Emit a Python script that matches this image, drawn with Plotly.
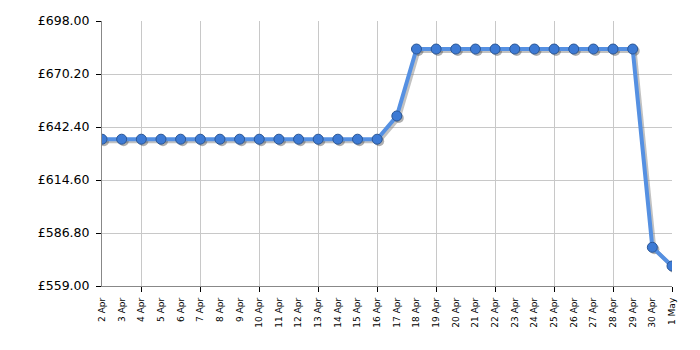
import plotly.graph_objects as go

dates = ["2 Apr", "3 Apr", "4 Apr", "5 Apr", "6 Apr", "7 Apr", "8 Apr", "9 Apr", "10 Apr",
         "11 Apr", "12 Apr", "13 Apr", "14 Apr", "15 Apr", "16 Apr", "17 Apr", "18 Apr",
         "19 Apr", "20 Apr", "21 Apr", "22 Apr", "23 Apr", "24 Apr", "25 Apr", "26 Apr",
         "27 Apr", "28 Apr", "29 Apr", "30 Apr", "1 May"]
prices = [636.0, 636.0, 636.0, 636.0, 636.0, 636.0, 636.0, 636.0, 636.0, 636.0,
          636.0, 636.0, 636.0, 636.0, 636.0, 648.2, 683.3, 683.3, 683.3, 683.3,
          683.3, 683.3, 683.3, 683.3, 683.3, 683.3, 683.3, 683.3, 579.3, 569.5]
y_ticks = [559.0, 586.8, 614.6, 642.4, 670.2, 698.0]
y_labels = ["£%.2f" % v for v in y_ticks]

W, H = 700, 350
ML, MR, MT, MB = 102, 28, 21, 64
pw, ph = W - ML - MR, H - MT - MB
idx = list(range(len(dates)))
xr = [0, len(dates) - 1]
yr = [y_ticks[0], y_ticks[-1]]
# shadow offset (pixels) converted to data units
sx = 2 * (xr[1] - xr[0]) / pw
sy = 2 * (yr[1] - yr[0]) / ph

fig = go.Figure()
# base subplot (holds grid/axes)
fig.add_trace(go.Scatter(x=idx, y=prices, mode="none", showlegend=False, hoverinfo="skip"))
# label axis (every day)
fig.add_trace(go.Scatter(x=idx, y=prices, xaxis="x2", mode="none", showlegend=False,
                         hoverinfo="skip"))
# shadow
fig.add_trace(go.Scatter(x=idx, y=prices, xaxis="x3", yaxis="y3", mode="lines+markers",
                         line=dict(color="rgba(120,120,120,0.45)", width=4),
                         marker=dict(size=10, color="rgba(80,80,80,0.45)"),
                         hoverinfo="skip", showlegend=False))
# main series
fig.add_trace(go.Scatter(x=idx, y=prices, xaxis="x4", yaxis="y4", mode="lines+markers",
                         line=dict(color="#5590e2", width=4),
                         marker=dict(size=10, color="#3d7ad4",
                                     line=dict(color="#2b5796", width=1)),
                         showlegend=False))

fig.update_layout(
    width=W, height=H,
    margin=dict(l=ML, r=MR, t=MT, b=MB),
    paper_bgcolor="white", plot_bgcolor="white",
    font=dict(family="DejaVu Sans, Verdana, sans-serif", color="#000"),
    xaxis=dict(range=xr, tick0=2, dtick=3, showticklabels=False,
               showgrid=True, gridcolor="#c8c8c8", gridwidth=1,
               ticks="outside", ticklen=5, tickcolor="#000",
               showline=True, linecolor="#888", linewidth=1, zeroline=False),
    xaxis2=dict(range=xr, overlaying="x", side="bottom", tickmode="array",
                tickvals=idx, ticktext=dates, tickangle=-90, ticks="",
                tickfont=dict(size=9), showgrid=False, zeroline=False,
                showline=False, ticklabelstandoff=9),
    xaxis3=dict(range=[xr[0] - sx, xr[1] - sx], overlaying="x", visible=False),
    xaxis4=dict(range=xr, overlaying="x", visible=False),
    yaxis=dict(range=yr, tickmode="array", tickvals=y_ticks, ticktext=y_labels,
               tickfont=dict(size=12.5), ticklabelstandoff=4,
               showgrid=True, gridcolor="#c8c8c8", gridwidth=1,
               ticks="outside", ticklen=5, tickcolor="#000",
               showline=True, linecolor="#888", linewidth=1, zeroline=False),
    yaxis3=dict(range=[yr[0] + sy, yr[1] + sy], overlaying="y", visible=False),
    yaxis4=dict(range=yr, overlaying="y", visible=False),
)

fig.write_html("out.html")
